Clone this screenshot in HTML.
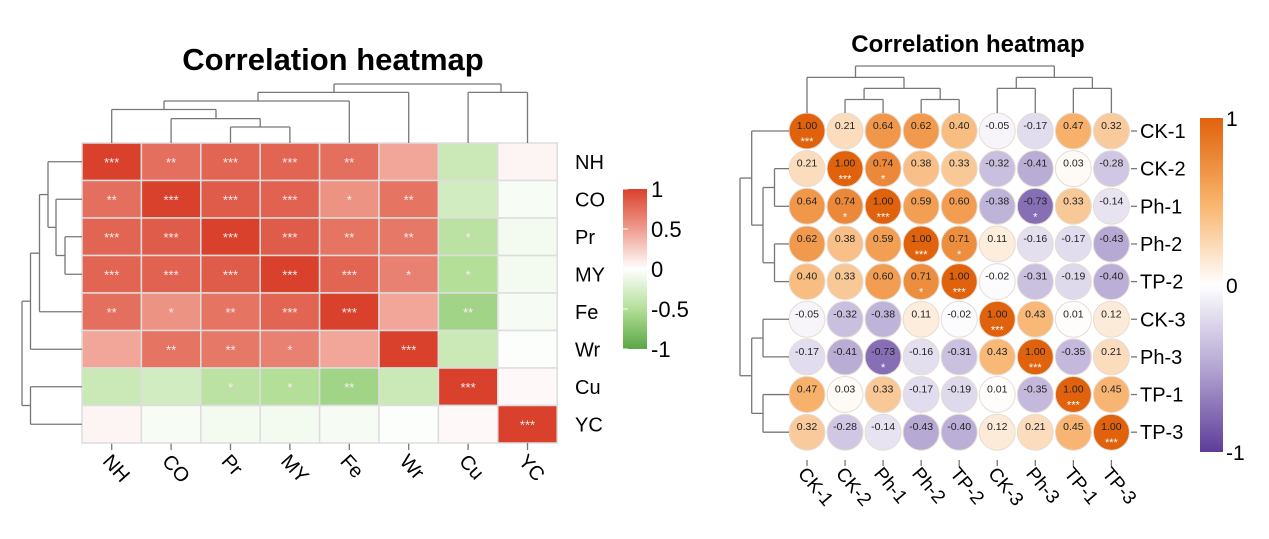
<!DOCTYPE html>
<html><head><meta charset="utf-8">
<style>
html,body{margin:0;padding:0;background:#fff;}
svg{display:block;font-family:"Liberation Sans",Arial,sans-serif;}
</style></head>
<body>
<svg id="chart" width="1269" height="539" viewBox="0 0 1269 539">
<defs>
<linearGradient id="gL" x1="0" y1="1" x2="0" y2="0">
<stop offset="0" stop-color="#5aa745"/><stop offset="0.25" stop-color="#b3df98"/><stop offset="0.5" stop-color="#ffffff"/><stop offset="0.75" stop-color="#ef9c8e"/><stop offset="1" stop-color="#d9412d"/>
</linearGradient>
<linearGradient id="gR" x1="0" y1="1" x2="0" y2="0">
<stop offset="0" stop-color="#5e3c99"/><stop offset="0.25" stop-color="#b2a5d2"/><stop offset="0.5" stop-color="#ffffff"/><stop offset="0.75" stop-color="#f8b269"/><stop offset="1" stop-color="#e0620c"/>
</linearGradient>
</defs>
<text x="333" y="70" text-anchor="middle" font-size="31" font-weight="bold">Correlation heatmap</text>
<text x="968" y="52" text-anchor="middle" font-size="24" font-weight="bold">Correlation heatmap</text>
<g id="left"></g>
<g id="right"></g>
</svg>
<script>
// ---------- LEFT DATA ----------
var leftVars = ["NH","CO","Pr","MY","Fe","Wr","Cu","YC"];
var leftVals = [
 [1.00,0.75,0.80,0.80,0.75,0.45,-0.35,0.05],
 [0.75,1.00,0.85,0.82,0.55,0.72,-0.30,-0.05],
 [0.80,0.85,1.00,0.85,0.72,0.70,-0.45,-0.08],
 [0.80,0.82,0.85,1.00,0.80,0.65,-0.50,-0.08],
 [0.75,0.55,0.72,0.80,1.00,0.45,-0.60,-0.06],
 [0.45,0.72,0.70,0.65,0.45,1.00,-0.35,-0.02],
 [-0.35,-0.30,-0.45,-0.50,-0.60,-0.35,1.00,0.03],
 [0.05,-0.05,-0.08,-0.08,-0.06,-0.02,0.03,1.00]
];
var leftStars = [
 ["***","**","***","***","**","","",""],
 ["**","***","***","***","*","**","",""],
 ["***","***","***","***","**","**","*",""],
 ["***","***","***","***","***","*","*",""],
 ["**","*","**","***","***","","**",""],
 ["","**","**","*","","***","",""],
 ["","","*","*","**","","***",""],
 ["","","","","","","","***"]
];
var leftTicks = ["1","0.5","0","-0.5","-1"];
var leftTickVals = [1,0.5,0,-0.5,-1];
// ---------- RIGHT DATA ----------
var rightVars = ["CK-1","CK-2","Ph-1","Ph-2","TP-2","CK-3","Ph-3","TP-1","TP-3"];
var rightVals = [
 [1.00,0.21,0.64,0.62,0.40,-0.05,-0.17,0.47,0.32],
 [0.21,1.00,0.74,0.38,0.33,-0.32,-0.41,0.03,-0.28],
 [0.64,0.74,1.00,0.59,0.60,-0.38,-0.73,0.33,-0.14],
 [0.62,0.38,0.59,1.00,0.71,0.11,-0.16,-0.17,-0.43],
 [0.40,0.33,0.60,0.71,1.00,-0.02,-0.31,-0.19,-0.40],
 [-0.05,-0.32,-0.38,0.11,-0.02,1.00,0.43,0.01,0.12],
 [-0.17,-0.41,-0.73,-0.16,-0.31,0.43,1.00,-0.35,0.21],
 [0.47,0.03,0.33,-0.17,-0.19,0.01,-0.35,1.00,0.45],
 [0.32,-0.28,-0.14,-0.43,-0.40,0.12,0.21,0.45,1.00]
];
var rightStars = [
 ["***","","","","","","","",""],
 ["","***","*","","","","","",""],
 ["","*","***","","","","*","",""],
 ["","","","***","*","","","",""],
 ["","","","*","***","","","",""],
 ["","","","","","***","","",""],
 ["","","*","","","","***","",""],
 ["","","","","","","","***",""],
 ["","","","","","","","","***"]
];
var rightTicks = ["1","0","-1"];
var rightTickVals = [1,0,-1];

var NS="http://www.w3.org/2000/svg";
function mk(tag,attrs,parent){var e=document.createElementNS(NS,tag);for(var k in attrs)e.setAttribute(k,attrs[k]);parent.appendChild(e);return e;}
function lerp(a,b,t){return a.map(function(v,i){return Math.round(v+(b[i]-v)*t);});}
function rgb(c){return "rgb("+c.join(",")+")";}
function ramp(stops,v){
  for(var i=0;i<stops.length-1;i++){if(v<=stops[i+1][0]){var t=(v-stops[i][0])/(stops[i+1][0]-stops[i][0]);return rgb(lerp(stops[i][1],stops[i+1][1],t));}}
  return rgb(stops[stops.length-1][1]);
}
function colL(v){
  return ramp([[-1,[90,167,69]],[-0.5,[179,223,152]],[0,[255,255,255]],[0.5,[239,156,142]],[1,[217,65,45]]],v);
}
function colR(v){
  return ramp([[-1,[94,60,153]],[-0.5,[170,155,205]],[0,[255,255,255]],[0.5,[246,172,98]],[1,[224,98,12]]],v);
}
function line(g,x1,y1,x2,y2,name){var l=mk("line",{x1:x1,y1:y1,x2:x2,y2:y2,stroke:"#777","stroke-width":1.3},g);

return l;}

// ---------- LEFT ----------
var gL=document.getElementById("left");
var L0x=82,L0y=143,cw=59.4,ch=37.5;
function lx(i){return L0x+cw*(i+0.5);}
function ly(i){return L0y+ch*(i+0.5);}
leftVars.forEach(function(rn,r){
  leftVars.forEach(function(cn,c){
    var rc=mk("rect",{x:L0x+cw*c,y:L0y+ch*r,width:cw,height:ch,fill:colL(leftVals[r][c]),stroke:"#dddddd","stroke-width":1.5},gL);
    
    
    if(leftStars[r][c]){
      var t=mk("text",{x:lx(c),y:ly(r)+5,"text-anchor":"middle","font-size":13,fill:"#fbeeee"},gL);
      t.textContent=leftStars[r][c];
      
      
    }
  });
  var t=mk("text",{x:575,y:ly(r)+7,"font-size":20},gL);t.textContent=rn;
  
  
  line(gL,lx(r),443,lx(r),450,'x-tick');
  var tx=mk("text",{x:0,y:0,"font-size":20,transform:"translate("+(lx(r)-10)+",462) rotate(48)"},gL);tx.textContent=rn;
  
  
});
function uT(g,xa,xb,yTop,ya,yb,n){line(g,xa,ya,xa,yTop,n);line(g,xb,yb,xb,yTop,n);line(g,xa,yTop,xb,yTop,n);}
uT(gL,lx(2),lx(3),127,143,143,'top-dendrogram');
uT(gL,lx(1),(lx(2)+lx(3))/2,118.6,143,127,'top-dendrogram');
uT(gL,lx(0),216,109.5,143,118.6,'top-dendrogram');
uT(gL,164,lx(4),101,109.5,143,'top-dendrogram');
uT(gL,258,lx(5),92.4,101,143,'top-dendrogram');
uT(gL,lx(6),lx(7),92.4,143,143,'top-dendrogram');
uT(gL,334,501,84,92.4,92.4,'top-dendrogram');
function uL(g,ya,yb,xL,xa,xb,n){line(g,xa,ya,xL,ya,n);line(g,xb,yb,xL,yb,n);line(g,xL,ya,xL,yb,n);}
uL(gL,ly(2),ly(3),65,82,82,'left-dendrogram');
uL(gL,ly(1),(ly(2)+ly(3))/2,56,82,65,'left-dendrogram');
uL(gL,ly(0),(ly(1)+(ly(2)+ly(3))/2)/2,48,82,56,'left-dendrogram');
var yA=(ly(0)+(ly(1)+(ly(2)+ly(3))/2)/2)/2;
uL(gL,yA,ly(4),39.5,48,82,'left-dendrogram');
var yB=(yA+ly(4))/2;
uL(gL,yB,ly(5),30.5,39.5,82,'left-dendrogram');
uL(gL,ly(6),ly(7),30.5,82,82,'left-dendrogram');
uL(gL,(yB+ly(5))/2,(ly(6)+ly(7))/2,22,30.5,30.5,'left-dendrogram');
var cbx=623,cby=189,cbh=160;
var cb=mk("rect",{x:cbx,y:cby,width:24,height:cbh,fill:"url(#gL)"},gL);


leftTicks.forEach(function(s,i){
  var y=cby+(1-leftTickVals[i])/2*cbh;
  var w1=mk("line",{x1:cbx,y1:y,x2:cbx+5,y2:y,stroke:"#fff","stroke-width":1},gL);
  
  var t=mk("text",{x:651,y:y+8,"font-size":22},gL);t.textContent=s;
  
  
});

// ---------- RIGHT ----------
var gR=document.getElementById("right");
function rx(i){return 807+38.05*i;}
function ry(i){return 131+37.65*i;}
rightVars.forEach(function(rn,r){
  rightVars.forEach(function(cn,c){
    var v=rightVals[r][c];
    var ci=mk("circle",{cx:rx(c),cy:ry(r),r:18,fill:colR(v),stroke:"#e6dcd4","stroke-width":1},gR);
    
    
    var t=mk("text",{x:rx(c),y:ry(r)-2,"text-anchor":"middle","font-size":10.5,fill:"#222"},gR);
    t.textContent=v.toFixed(2);
    
    
    if(rightStars[r][c]){
      var s=mk("text",{x:rx(c),y:ry(r)+14,"text-anchor":"middle","font-size":11,fill:"#fff"},gR);
      s.textContent=rightStars[r][c];
      
      
    }
  });
  line(gR,1131,ry(r),1137,ry(r),'y-tick');
  var t=mk("text",{x:1140,y:ry(r)+7,"font-size":20},gR);t.textContent=rn;
  
  
  line(gR,rx(r),460,rx(r),466,'x-tick');
  var tx=mk("text",{x:0,y:0,"font-size":19,transform:"translate("+(rx(r)-10)+",474) rotate(50)"},gR);tx.textContent=rn;
  
  
});
var lb=113;
uT(gR,rx(1),rx(2),99.5,lb,lb,'top-dendrogram');
uT(gR,rx(3),rx(4),99.5,lb,lb,'top-dendrogram');
uT(gR,(rx(1)+rx(2))/2,(rx(3)+rx(4))/2,88.4,99.5,99.5,'top-dendrogram');
uT(gR,rx(0),904,77.4,lb,88.4,'top-dendrogram');
uT(gR,rx(5),rx(6),88.4,lb,lb,'top-dendrogram');
uT(gR,rx(7),rx(8),88.4,lb,lb,'top-dendrogram');
uT(gR,(rx(5)+rx(6))/2,(rx(7)+rx(8))/2,77.4,88.4,88.4,'top-dendrogram');
uT(gR,(rx(0)+904)/2,(((rx(5)+rx(6))/2)+((rx(7)+rx(8))/2))/2,66,77.4,77.4,'top-dendrogram');
var le=789;
uL(gR,ry(1),ry(2),774.5,le,le,'left-dendrogram');
uL(gR,ry(3),ry(4),774.5,le,le,'left-dendrogram');
var yC=(ry(1)+ry(2)+ry(3)+ry(4))/4;
uL(gR,(ry(1)+ry(2))/2,(ry(3)+ry(4))/2,763,774.5,774.5,'left-dendrogram');
uL(gR,ry(0),yC,751.7,le,763,'left-dendrogram');
uL(gR,ry(5),ry(6),763,le,le,'left-dendrogram');
uL(gR,ry(7),ry(8),763,le,le,'left-dendrogram');
var yD=(ry(5)+ry(6)+ry(7)+ry(8))/4;
uL(gR,(ry(5)+ry(6))/2,(ry(7)+ry(8))/2,751.7,763,763,'left-dendrogram');
uL(gR,(ry(0)+yC)/2,yD,740,751.7,751.7,'left-dendrogram');
var rcx=1200,rcy=118,rch=334;
var rcb=mk("rect",{x:rcx,y:rcy,width:23,height:rch,fill:"url(#gR)"},gR);


rightTicks.forEach(function(s,i){
  var y=rcy+(1-rightTickVals[i])/2*rch;
  var t=mk("text",{x:1226,y:y+8,"font-size":21},gR);t.textContent=s;
  
  
});
</script>
</body></html>
